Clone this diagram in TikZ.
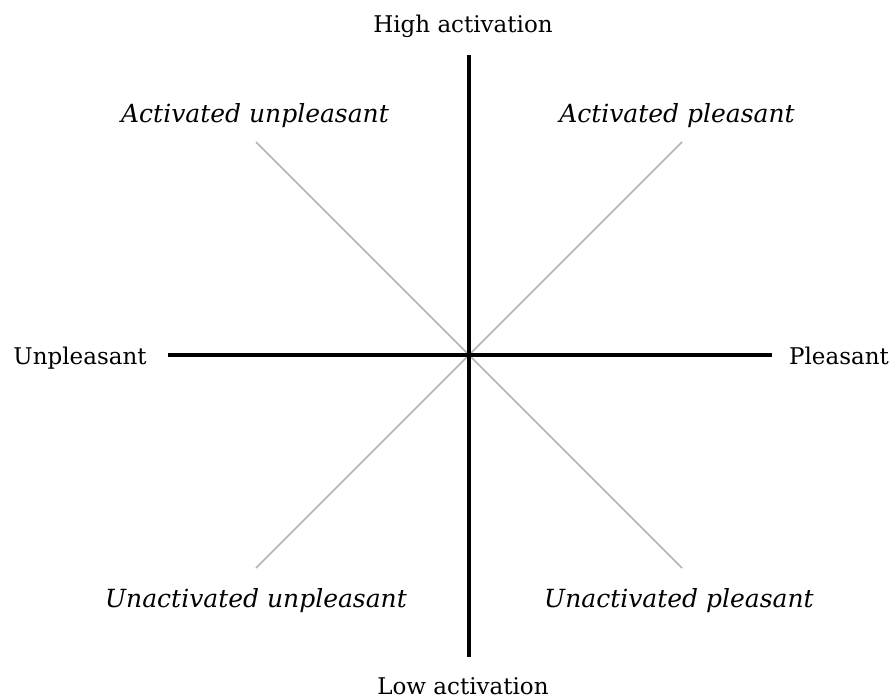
\documentclass[tikz,border=0pt]{standalone}
\usepackage{fontspec}
\setmainfont{DejaVu Serif}
\begin{document}
\begin{tikzpicture}[x=1pt,y=-1pt,
  axis/.style={line width=4pt,black},
  diag/.style={line width=1.6pt,color=black!30},
  lab/.style={inner sep=0pt,anchor=base,font=\fontsize{23}{27}\selectfont},
  quad/.style={lab,font=\fontsize{25}{29}\selectfont\itshape}]
\useasboundingbox (0,0) rectangle (894,700);
% origin and the ends of the two axes and the diagonals
\coordinate (o) at (469,355);
\coordinate (top) at (469,55);
\coordinate (bot) at (469,657);
\coordinate (lft) at (168,355);
\coordinate (rgt) at (772,355);
\coordinate (ul) at (256,142);
\coordinate (ur) at (682,142);
\coordinate (ll) at (256,568);
\coordinate (lr) at (682,568);
% diagonals
\draw[diag] (ul) -- (lr);
\draw[diag] (ur) -- (ll);
% axes
\draw[axis] (top) -- (bot);
\draw[axis] (lft) -- (rgt);
% labels
\node[lab] (hi) at (463,33) {High activation};
\node[lab] (lo) at (463,694) {Low activation};
\node[lab] (un) at (80,365) {Unpleasant};
\node[lab] (pl) at (839,365) {Pleasant};
\node[quad] (au) at (255,123) {Activated unpleasant};
\node[quad] (ap) at (677,123) {Activated pleasant};
\node[quad] (uu) at (256,607) {Unactivated unpleasant};
\node[quad] (up) at (679,607) {Unactivated pleasant};
\end{tikzpicture}
\end{document}
